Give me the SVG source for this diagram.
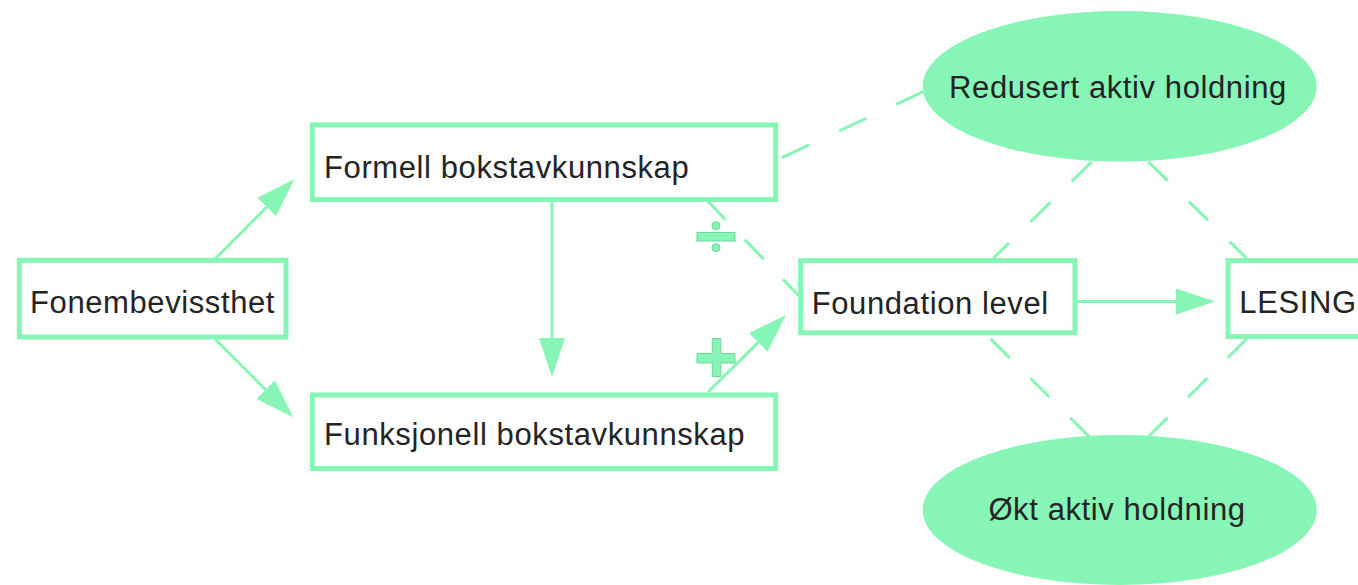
<svg xmlns="http://www.w3.org/2000/svg" width="1358" height="585" viewBox="0 0 1358 585">
<style>
.box{fill:#ffffff;stroke:#86f5b5;stroke-width:5}
.ell{fill:#86f5b5;stroke:none}
.lbl{font-family:"Liberation Sans",Arial,Helvetica,sans-serif;font-size:31px;letter-spacing:0.6px;fill:#242424}
.mid{text-anchor:middle}
.ln{stroke:#86f5b5;stroke-width:3;fill:none}
.dash{stroke:#86f5b5;stroke-width:3;fill:none;stroke-dasharray:28 30}
.sign{fill:#86f5b5;stroke:#6fd69a;stroke-width:1}
</style>
<defs>
<marker id="ah" markerUnits="userSpaceOnUse" markerWidth="40" markerHeight="26" refX="0" refY="13" orient="auto" viewBox="0 0 39 26">
<path d="M0,0 L39,13 L0,26 Z" fill="#86f5b5"/>
</marker>
</defs>
<g id="connectors">
<line class="ln" x1="215" y1="259" x2="266.8" y2="207" marker-end="url(#ah)"/>
<line class="ln" x1="215" y1="339" x2="265.7" y2="389.7" marker-end="url(#ah)"/>
<line class="ln" x1="552" y1="202" x2="552" y2="338" marker-end="url(#ah)"/>
<line class="ln" x1="708.3" y1="391.7" x2="758.3" y2="342.4" marker-end="url(#ah)"/>
<line class="ln" x1="1077" y1="301.5" x2="1176" y2="301.5" marker-end="url(#ah)"/>
<line class="dash" style="stroke-dasharray:30 33" x1="923.3" y1="91.7" x2="778.3" y2="159.3"/>
<line class="dash" style="stroke-dasharray:27 28" x1="706.7" y1="200" x2="799" y2="296"/>
<line class="dash" x1="1091.7" y1="161.7" x2="993.3" y2="258.3"/>
<line class="dash" style="stroke-dasharray:27 30" x1="1148.3" y1="161.7" x2="1246.7" y2="258.3"/>
<line class="dash" style="stroke-dasharray:27 29" x1="1089.3" y1="436.7" x2="990" y2="338.3"/>
<line class="dash" style="stroke-dasharray:27 29" x1="1148.3" y1="436.7" x2="1247.3" y2="338.3"/>
<g id="minus-sign">
<circle class="sign" cx="716" cy="225.7" r="4"/>
<rect class="sign" x="697" y="232.5" width="38" height="8.5"/>
<circle class="sign" cx="716" cy="247.7" r="4"/>
</g>
<g id="plus-sign">
<path class="sign" d="M712.3,338.5 H720.8 V353.5 H735 V363 H720.8 V376.5 H712.3 V363 H697 V353.5 H712.3 Z"/>
</g>
</g>
<g id="fonembevissthet">
<rect class="box" x="19.3" y="260.3" width="266.7" height="76.7"/>
<text class="lbl" x="30" y="312.7">Fonembevissthet</text>
</g>
<g id="formell">
<rect class="box" x="312.3" y="125" width="463.4" height="74.5"/>
<text class="lbl" x="324" y="178.3">Formell bokstavkunnskap</text>
</g>
<g id="funksjonell">
<rect class="box" x="312.3" y="395" width="463.4" height="73.5"/>
<text class="lbl" x="324" y="445">Funksjonell bokstavkunnskap</text>
</g>
<g id="foundation">
<rect class="box" x="800.6" y="260.6" width="274.4" height="72.2"/>
<text class="lbl" x="811.7" y="314">Foundation level</text>
</g>
<g id="lesing">
<rect class="box" x="1228" y="260.6" width="160" height="76"/>
<text class="lbl" x="1239.3" y="313.3">LESING</text>
</g>
<g id="redusert">
<ellipse class="ell" cx="1119.7" cy="86.3" rx="197" ry="75.3"/>
<text class="lbl mid" x="1118" y="98.3">Redusert aktiv holdning</text>
</g>
<g id="okt">
<ellipse class="ell" cx="1119.7" cy="510" rx="197" ry="75"/>
<text class="lbl mid" x="1117" y="520">Økt aktiv holdning</text>
</g>
</svg>
